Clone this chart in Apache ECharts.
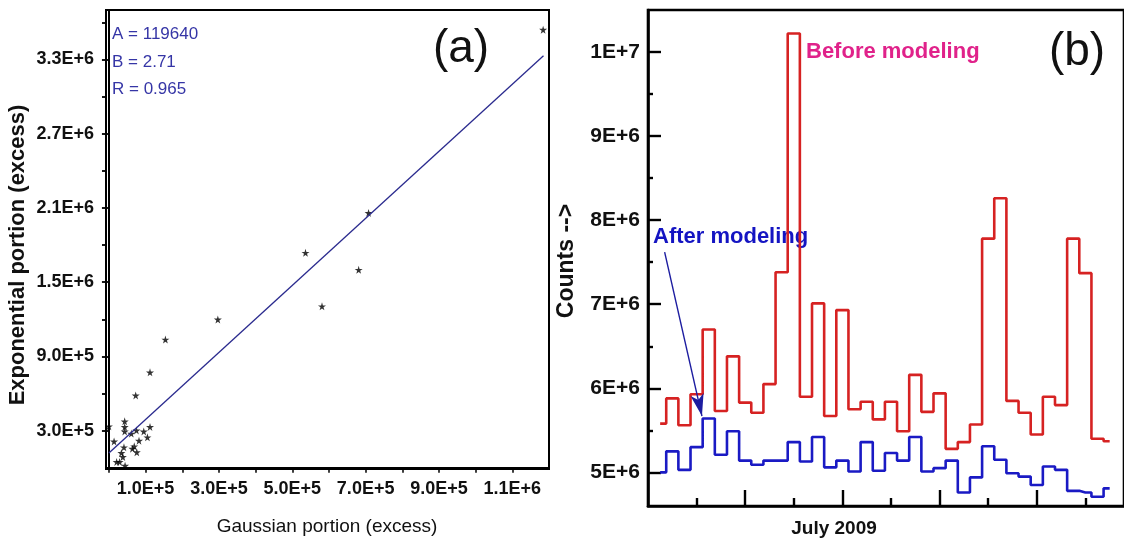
<!DOCTYPE html>
<html>
<head>
<meta charset="utf-8">
<title>Gaussian vs exponential portion / counts July 2009</title>
<script src="https://cdn.jsdelivr.net/npm/echarts@6.0.0/dist/echarts.min.js"></script>
<style>
  html, body { margin: 0; padding: 0; background: #fff; }
  #main { width: 1124px; height: 545px; }
</style>
</head>
<body>
<div id="main"></div>
<script>
// panel (a): gaussian portion vs exponential portion (excess)
const gaussX = [1184000, 708000, 536000, 681000, 581000, 297000, 154000, 112000, 73000, 0,
  14000, 43000, 43000, 43000, 61000, 75000, 95000, 112000, 105000, 82000,
  41000, 64000, 69000, 76000, 34000, 38000, 21000, 29000, 44000];
const expoY = [3540000, 2060000, 1737000, 1600000, 1305000, 1198000, 1036000, 771000, 585000, 335000,
  213000, 375000, 330000, 294000, 276000, 302000, 294000, 330000, 246000, 219000,
  165000, 154000, 173000, 125000, 120000, 87000, 47000, 47000, 17000];
const fitA = 119640;
const fitB = 2.71;
const fitR = 0.965;
const fitXRange = [0, 1185000];

const aYLabels = [300000, 900000, 1500000, 2100000, 2700000, 3300000];
const aYMinor = [600000, 1200000, 1800000, 2400000, 3000000, 3600000];
const aXTicks = [0, 100000, 200000, 300000, 400000, 500000, 600000, 700000, 800000, 900000, 1000000, 1100000];
const aXLabels = [100000, 300000, 500000, 700000, 900000, 1100000];

// panel (b): counts per day, July 2009
const days = [1, 2, 3, 4, 5, 6, 7, 8, 9, 10, 11, 12, 13, 14, 15, 16, 17, 18, 19,
  20, 21, 22, 23, 24, 25, 26, 27, 28, 29, 30, 31, 32, 33, 34, 35, 36, 37, 38];
const beforeModeling = [5.58e6, 5.88e6, 5.56e6, 5.93e6, 6.70e6, 5.73e6, 6.38e6, 5.83e6, 5.71e6, 6.05e6,
  7.38e6, 10.22e6, 5.90e6, 7.01e6, 5.67e6, 6.93e6, 5.75e6, 5.84e6, 5.63e6, 5.84e6,
  5.49e6, 6.16e6, 5.72e6, 5.94e6, 5.28e6, 5.36e6, 5.57e6, 7.78e6, 8.26e6, 5.85e6,
  5.71e6, 5.45e6, 5.90e6, 5.80e6, 7.78e6, 7.37e6, 5.40e6, 5.37e6];
const afterModeling = [5.00e6, 5.25e6, 5.03e6, 5.30e6, 5.64e6, 5.21e6, 5.49e6, 5.14e6, 5.09e6, 5.14e6,
  5.14e6, 5.36e6, 5.13e6, 5.42e6, 5.06e6, 5.14e6, 5.01e6, 5.36e6, 5.02e6, 5.23e6,
  5.14e6, 5.42e6, 5.01e6, 5.05e6, 5.14e6, 4.76e6, 4.94e6, 5.31e6, 5.15e6, 4.99e6,
  4.95e6, 4.85e6, 5.07e6, 5.03e6, 4.78e6, 4.76e6, 4.71e6, 4.81e6];

const bYLabels = [5e6, 6e6, 7e6, 8e6, 9e6, 1e7];
const bYMinor = [5.5e6, 6.5e6, 7.5e6, 8.5e6, 9.5e6];
const bXLong = [8, 16, 24, 32];
const bXShort = [4, 12, 20, 28, 36];

// arrow from "After modeling" label down to the blue curve (day, counts)
const arrowFrom = [1.37, 7.62e6];
const arrowTo = [4.44, 5.67e6];

const FONT = "'Liberation Sans', Arial, sans-serif";
const star = 'path://M50,0 L61,35 L98,35 L68,57 L79,91 L50,70 L21,91 L32,57 L2,35 L39,35 Z';

let chart = echarts.init(document.getElementById('main'));

let scatterData = gaussX.map((x, i) => [x, expoY[i]]);
let fitData = fitXRange.map(x => [x, fitA + fitB * x]);
let redData = days.map((d, i) => [d, beforeModeling[i]]);
let blueData = days.map((d, i) => [d, afterModeling[i]]);

let option = {
  animation: false,
  backgroundColor: '#fff',
  grid: [
    {left: 106, top: 10, width: 443, height: 459, show: true, borderColor: '#000', borderWidth: 2},
    {left: 648, top: 10, width: 480, height: 496, show: true, borderColor: '#000', borderWidth: 2.6}
  ],
  xAxis: [
    {
      type: 'value', gridIndex: 0, min: -8000, max: 1200000,
      splitLine: {show: false},
      axisLine: {lineStyle: {color: '#000', width: 2}},
      axisTick: {customValues: aXTicks, length: 5, lineStyle: {color: '#000', width: 1.5}},
      axisLabel: {
        customValues: aXLabels, margin: 11,
        color: '#111', fontFamily: FONT, fontWeight: 'bold', fontSize: 18,
        formatter: v => v.toExponential(1).toUpperCase()
      }
    },
    {
      type: 'value', gridIndex: 1, position: 'bottom', min: 0, max: 39.18,
      splitLine: {show: false},
      axisLine: {lineStyle: {color: '#000', width: 2.6}},
      axisTick: {customValues: bXLong, inside: true, length: 16, lineStyle: {color: '#000', width: 2.4}},
      axisLabel: {show: false}
    },
    {
      type: 'value', gridIndex: 1, position: 'bottom', min: 0, max: 39.18,
      splitLine: {show: false},
      axisLine: {show: false},
      axisTick: {customValues: bXShort, inside: true, length: 8, lineStyle: {color: '#000', width: 2.4}},
      axisLabel: {show: false}
    }
  ],
  yAxis: [
    {
      type: 'value', gridIndex: 0, position: 'left', min: -10000, max: 3700000,
      splitLine: {show: false},
      axisLine: {lineStyle: {color: '#000', width: 2}},
      axisTick: {customValues: aYLabels, length: 7, lineStyle: {color: '#000', width: 1.8}},
      axisLabel: {
        customValues: aYLabels, margin: 12,
        color: '#111', fontFamily: FONT, fontWeight: 'bold', fontSize: 18,
        formatter: v => v.toExponential(1).toUpperCase()
      }
    },
    {
      type: 'value', gridIndex: 0, position: 'left', min: -10000, max: 3700000,
      splitLine: {show: false},
      axisLine: {show: false},
      axisTick: {customValues: aYMinor, length: 4, lineStyle: {color: '#000', width: 1.8}},
      axisLabel: {show: false}
    },
    {
      type: 'value', gridIndex: 1, position: 'left', min: 4.6e6, max: 1.05e7,
      splitLine: {show: false},
      axisLine: {lineStyle: {color: '#000', width: 2.6}},
      axisTick: {customValues: bYLabels, inside: true, length: 13, lineStyle: {color: '#000', width: 2.4}},
      axisLabel: {
        customValues: bYLabels, margin: 8,
        color: '#111', fontFamily: FONT, fontWeight: 'bold', fontSize: 21,
        formatter: v => v.toExponential(0).toUpperCase()
      }
    },
    {
      type: 'value', gridIndex: 1, position: 'left', min: 4.6e6, max: 1.05e7,
      splitLine: {show: false},
      axisLine: {show: false},
      axisTick: {customValues: bYMinor, inside: true, length: 5, lineStyle: {color: '#000', width: 2.4}},
      axisLabel: {show: false}
    }
  ],
  series: [
    {
      name: 'points', type: 'scatter', xAxisIndex: 0, yAxisIndex: 0,
      symbol: star, symbolSize: 8,
      itemStyle: {color: '#000'},
      data: scatterData
    },
    {
      name: 'fit', type: 'line', xAxisIndex: 0, yAxisIndex: 0,
      showSymbol: false, symbol: 'none',
      lineStyle: {color: '#2a2a8e', width: 1.3},
      data: fitData
    },
    {
      name: 'Before modeling', type: 'line', xAxisIndex: 1, yAxisIndex: 2,
      step: 'middle', showSymbol: false, symbol: 'none',
      lineStyle: {color: '#d62222', width: 2.6},
      data: redData
    },
    {
      name: 'After modeling', type: 'line', xAxisIndex: 1, yAxisIndex: 2,
      step: 'middle', showSymbol: false, symbol: 'none',
      lineStyle: {color: '#1a1ac4', width: 2.6},
      data: blueData,
      markLine: {
        silent: true,
        symbol: ['none', 'arrow'],
        symbolSize: [10, 22],
        label: {show: false},
        lineStyle: {color: '#1c1ca0', width: 1.4, type: 'solid'},
        data: [[{coord: arrowFrom}, {coord: arrowTo}]]
      }
    }
  ],
  graphic: [
    {type: 'text', x: 112, y: 34, style: {text: 'A = ' + fitA, fill: '#3535a6', font: '17px ' + FONT, verticalAlign: 'middle'}},
    {type: 'text', x: 112, y: 62, style: {text: 'B = ' + fitB, fill: '#3535a6', font: '17px ' + FONT, verticalAlign: 'middle'}},
    {type: 'text', x: 112, y: 89, style: {text: 'R = ' + fitR, fill: '#3535a6', font: '17px ' + FONT, verticalAlign: 'middle'}},
    {type: 'text', x: 461, y: 49, style: {text: '(a)', fill: '#111', font: '46px ' + FONT, align: 'center', verticalAlign: 'middle'}},
    {type: 'text', x: 1077, y: 52, style: {text: '(b)', fill: '#111', font: '46px ' + FONT, align: 'center', verticalAlign: 'middle'}},
    {type: 'text', x: 327, y: 527, style: {text: 'Gaussian portion (excess)', fill: '#111', font: '19px ' + FONT, align: 'center', verticalAlign: 'middle'}},
    {type: 'text', x: 18, y: 255, rotation: Math.PI / 2, style: {text: 'Exponential portion (excess)', fill: '#111', font: 'bold 22px ' + FONT, align: 'center', verticalAlign: 'middle'}},
    {type: 'text', x: 567, y: 261, rotation: Math.PI / 2, style: {text: 'Counts -->', fill: '#111', font: 'bold 23px ' + FONT, align: 'center', verticalAlign: 'middle'}},
    {type: 'text', x: 834, y: 529, style: {text: 'July 2009', fill: '#111', font: 'bold 19px ' + FONT, align: 'center', verticalAlign: 'middle'}},
    {type: 'text', x: 806, y: 52, style: {text: 'Before modeling', fill: '#e0228a', font: 'bold 22px ' + FONT, verticalAlign: 'middle'}},
    {type: 'text', x: 653, y: 237, style: {text: 'After modeling', fill: '#1414c2', font: 'bold 22px ' + FONT, verticalAlign: 'middle'}}
  ]
};

chart.setOption(option);
</script>
</body>
</html>
